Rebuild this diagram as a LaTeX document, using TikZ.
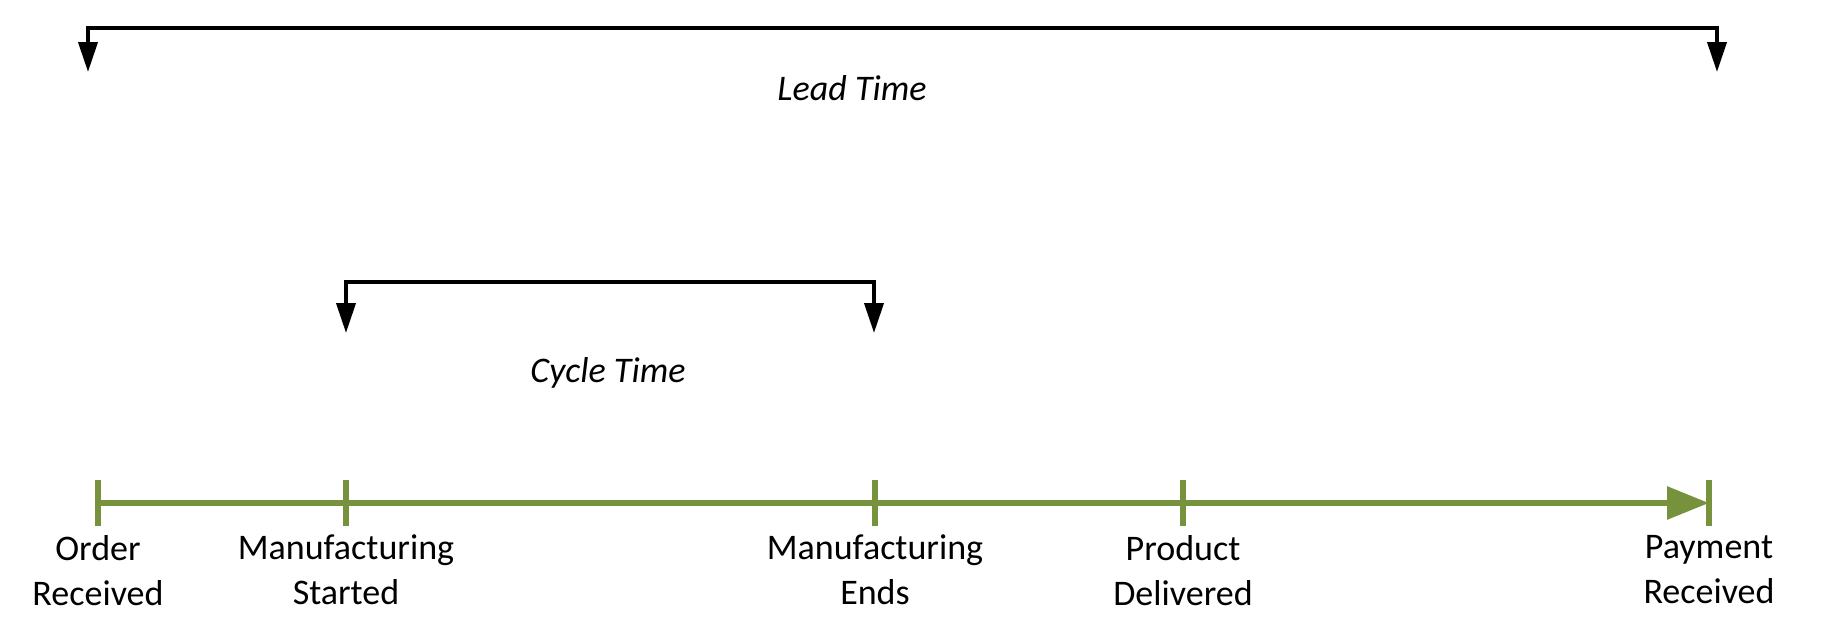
\documentclass[tikz,border=0pt]{standalone}
\usepackage{fontspec}
\setmainfont{Carlito}
\usepackage{xcolor}
\usepackage{tikz}
\usetikzlibrary{arrows.meta, positioning}

\definecolor{olive}{RGB}{118,146,60}

\begin{document}
\begin{tikzpicture}[x=0.02cm, y=-0.02cm,
  bracket/.style={line width=2.2pt,
    {Triangle[length=0.6cm, width=0.38cm]}-{Triangle[length=0.6cm, width=0.38cm]}},
  evt/.style={minimum height=0.9cm, minimum width=0pt, inner sep=0pt},
  tick/.style={olive, line width=3.4pt},
  event/.style={align=center, inner sep=0pt, font=\fontsize{20.5}{25.5}\selectfont},
  span/.style={inner sep=0pt, font=\fontsize{20.5}{24}\selectfont\itshape}]

\useasboundingbox (0,0) rectangle (1822,642);

% timeline
\node[evt] (order) at (98,503) {};
\node[evt] (mfgstart) at (346,503) {};
\node[evt] (mfgend) at (875,503) {};
\node[evt] (delivered) at (1183,503) {};
\node[evt] (payment) at (1709,503) {};

\draw[tick, -{Triangle[length=0.84cm, width=0.64cm]}] (order.center) -- (payment.center);
\draw[tick] (order.north) -- (order.south)
            (mfgstart.north) -- (mfgstart.south)
            (mfgend.north) -- (mfgend.south)
            (delivered.north) -- (delivered.south)
            (payment.north) -- (payment.south);

\node[event, below=0.18cm of order] (orderlbl) {Order\\Received};
\node[event, below=0.18cm of mfgstart] (mfgstartlbl) {Manufacturing\\Started};
\node[event, below=0.18cm of mfgend] (mfgendlbl) {Manufacturing\\Ends};
\node[event, below=0.18cm of delivered] (deliveredlbl) {Product\\Delivered};
\node[event, below=0.18cm of payment] (paymentlbl) {Payment\\Received};

% lead time
\coordinate (leadL) at (88,72);
\coordinate (leadR) at (1717,72);
\draw[bracket] (leadL) -- ++(0,-44) -| (leadR);
\node[span] (lead) at (852,88) {Lead Time};

% cycle time
\coordinate (cycleL) at (346,333);
\coordinate (cycleR) at (874,333);
\draw[bracket] (cycleL) -- ++(0,-51) -| (cycleR);
\node[span] (cycle) at (608,373) {Cycle Time};

\end{tikzpicture}
\end{document}
